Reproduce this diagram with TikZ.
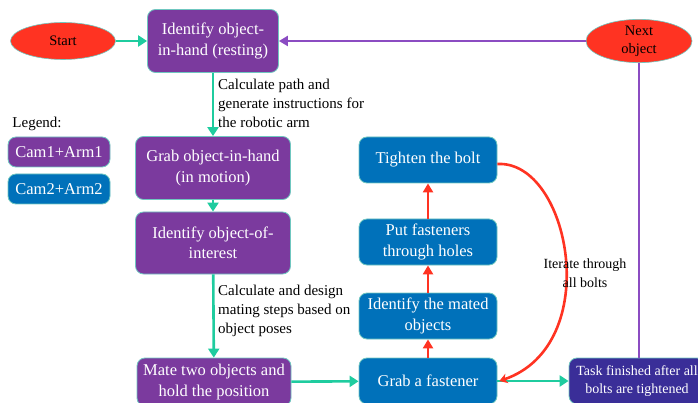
\documentclass[tikz,border=0pt]{standalone}
\usepackage{fontspec}
\setmainfont{Liberation Serif}
\usetikzlibrary{arrows.meta,shapes.geometric,positioning}
\definecolor{camone}{HTML}{7B3A9E}
\definecolor{camtwo}{HTML}{0071BA}
\definecolor{taskblue}{HTML}{3A2E98}
\definecolor{flowgreen}{HTML}{1FCC9F}
\definecolor{loopred}{HTML}{FF3322}
\definecolor{backline}{HTML}{8B4CC2}
\definecolor{boxedge}{HTML}{6FC7C0}
\tikzset{
  stepbox/.style={draw=boxedge,line width=0.8pt,rounded corners=8pt,text=white,align=center,inner sep=0pt,
    font=\fontsize{16.5}{20.5}\selectfont},
  armone/.style={stepbox,fill=camone},
  armtwo/.style={stepbox,fill=camtwo},
  endcap/.style={ellipse,draw=boxedge,line width=0.6pt,fill=loopred,inner sep=0pt,align=center,
    font=\fontsize{14.5}{18}\selectfont},
  note/.style={align=left,inner sep=0pt,font=\fontsize{15}{19}\selectfont},
  greenflow/.style={flowgreen,line width=2.6pt,-{Triangle[width=11pt,length=9pt]}},
  redflow/.style={loopred,line width=2.6pt,-{Triangle[width=10pt,length=9pt]}},
}
\begin{document}
\begin{tikzpicture}[x=1pt,y=-1pt]
		\useasboundingbox (0,0) rectangle (698,403);
		\clip (0,0) rectangle (698,403);
		% top row
		\node[endcap,minimum width=105pt,minimum height=37pt] (start) at (63,41) {Start};
		\node[armone,minimum width=131pt,minimum height=63pt] (idhand) at (213,41) {Identify object-\\in-hand (resting)};
		\node[endcap,minimum width=106pt,minimum height=37pt] (next) at (639,41) {Next\\object};
		% legend
		\node[note] (legend) at (37,124) {Legend:};
		\node[armone,minimum width=102pt,minimum height=30pt] (legone) at (59,152) {Cam1+Arm1};
		\node[armtwo,minimum width=102pt,minimum height=30pt] (legtwo) at (59,189) {Cam2+Arm2};
		% left column (Cam1+Arm1)
		\node[armone,minimum width=155pt,minimum height=63pt] (grabhand) at (213,168) {Grab object-in-hand\\(in motion)};
		\node[armone,minimum width=155pt,minimum height=62pt] (idinterest) at (213,243) {Identify object-of-\\interest};
		\node[armone,minimum width=154pt,minimum height=48pt] (mate) at (214,382) {Mate two objects and\\hold the position};
		% middle column (Cam2+Arm2)
		\node[armtwo,minimum width=138pt,minimum height=46pt] (fastener) at (428,381) {Grab a fastener};
		\node[armtwo,minimum width=138pt,minimum height=46pt] (mated) at (428,316) {Identify the mated\\objects};
		\node[armtwo,minimum width=138pt,minimum height=46pt] (holes) at (428,242) {Put fasteners\\through holes};
		\node[armtwo,minimum width=138pt,minimum height=46pt] (tighten) at (428,160) {Tighten the bolt};
		\node[stepbox,fill=taskblue,minimum width=136pt,minimum height=46pt,font=\fontsize{14}{18}\selectfont] (task) at (637,381) {Task finished after all\\bolts are tightened};
		% notes
		\node[note,anchor=west] (pathnote) at (218,103) {Calculate path and\\generate instructions for\\the robotic arm};
		\node[note,anchor=west] (matenote) at (218,311) {Calculate and design\\mating steps based on\\object poses};
		% connectors
		\draw[greenflow] (start) -- (idhand);
		\draw[greenflow] (idhand) -- (grabhand);
		\draw[greenflow] (grabhand) -- (idinterest);
		\draw[greenflow] (idinterest) -- (mate);
		\draw[greenflow] (mate) -- (fastener);
		\draw[greenflow] (fastener) -- (task);
		\draw[redflow] (fastener) -- (mated);
		\draw[redflow] (mated) -- (holes);
		\draw[redflow] (holes) -- (tighten);
		\draw[loopred,line width=2.6pt,-{Stealth[width=10pt,length=8pt]}] ([yshift=-4pt]tighten.east) .. controls (570,160) and (605,345) .. ([xshift=2pt]fastener.east);
		\node[note,align=center,font=\fontsize{14}{19}\selectfont] (iterate) at (585,273) {Iterate through\\all bolts};
		\draw[backline,line width=2.6pt] (task.north -| next.south) -- (next.south);
		\draw[backline,line width=2.6pt,-{Triangle[width=10pt,length=9pt]}] (next.west) -- (idhand.east);
	\end{tikzpicture}
\end{document}
